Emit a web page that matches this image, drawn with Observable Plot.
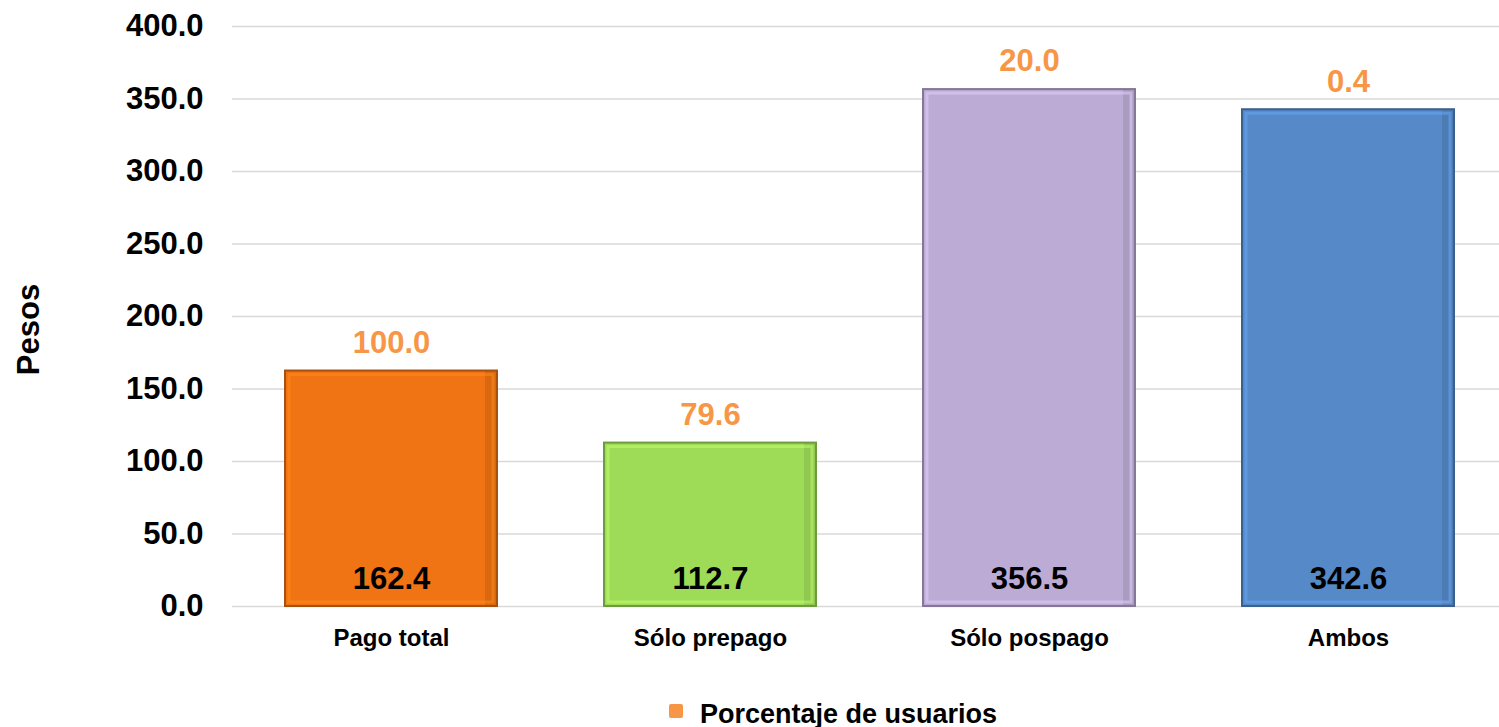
<!DOCTYPE html>
<html>
<head>
<meta charset="utf-8">
<script src="https://cdn.jsdelivr.net/npm/d3@7"></script>
<script src="https://cdn.jsdelivr.net/npm/@observablehq/plot@0.6"></script>
<style>
  html, body { margin: 0; padding: 0; background: #ffffff; }
  body { width: 1499px; height: 727px; overflow: hidden; font-family: "Liberation Sans", Arial, sans-serif; position: relative; }
  #legend { position: absolute; left: 669px; top: 701px; height: 26px; line-height: 26px; display: flex; align-items: center; font-weight: bold; font-size: 27px; color: #000; white-space: nowrap; }
  #legend .sw { width: 14px; height: 14px; background: #F79646; border-radius: 2px; margin-right: 17px; position: relative; top: -3px; }
</style>
</head>
<body>
<div id="chart"></div>
<div id="legend"><span class="sw"></span><span>Porcentaje de usuarios</span></div>
<script>
const categories = ["Pago total", "Sólo prepago", "Sólo pospago", "Ambos"];
const pesos = [162.4, 112.7, 356.5, 342.6];
const porcentaje = [100.0, 79.6, 20.0, 0.4];
const colors = ["#F07314", "#9EDC58", "#BBABD5", "#5589C8"];
const yTicks = [0, 50, 100, 150, 200, 250, 300, 350, 400];

const data = categories.map((c, i) => ({
  cat: c, pesos: pesos[i], pct: porcentaje[i], color: colors[i],
  dark: d3.color(colors[i]).darker(1).formatHex(),
  light: d3.color(colors[i]).brighter(0.6).formatHex()
}));

const chart = Plot.plot({
  width: 1499,
  height: 690,
  marginLeft: 232,
  marginRight: 0,
  marginTop: 26,
  marginBottom: 84,
  style: {fontFamily: "'Liberation Sans', Arial, sans-serif", background: "transparent"},
  x: {domain: categories, padding: 0.335, paddingOuter: 0.166, range: [232, 1508], label: null},
  y: {domain: [0, 400], ticks: yTicks, label: null},
  color: {type: "identity"},
  marks: [
    Plot.ruleY(yTicks, {stroke: "#d9d9d9", strokeWidth: 1.5}),
    Plot.barY(data, {x: "cat", y: "pesos", fill: "color"}),
    Plot.barY(data, {x: "cat", y: "pesos", fill: "dark", fillOpacity: 0.3, insetLeft: 200}),
    Plot.barY(data, {x: "cat", y: "pesos", fill: "none", stroke: "light", strokeWidth: 3, inset: 4, strokeOpacity: 0.5}),
    Plot.barY(data, {x: "cat", y: "pesos", fill: "none", stroke: "dark", strokeWidth: 2}),
    Plot.text(data, {x: "cat", y: 0, text: d => d.pesos.toFixed(1), dy: -27, fontSize: 31, fontWeight: "bold", fill: "#000"}),
    Plot.text(data, {x: "cat", y: "pesos", text: d => d.pct.toFixed(1), dy: -28, fontSize: 31, fontWeight: "bold", fill: "#F79646"}),
    Plot.axisY({ticks: yTicks, tickFormat: d => d.toFixed(1), tickSize: 0, tickPadding: 29, fontSize: 31, fontWeight: "bold",
      label: "Pesos", labelAnchor: "center", labelArrow: "none", labelOffset: 216}),
    Plot.axisX({tickSize: 0, tickPadding: 22, fontSize: 24, fontWeight: "bold", label: null})
  ]
});
document.getElementById("chart").appendChild(chart);
chart.querySelectorAll("text").forEach(t => {
  if (t.textContent === "Pesos") t.setAttribute("dx", "-13");
});
</script>
</body>
</html>
